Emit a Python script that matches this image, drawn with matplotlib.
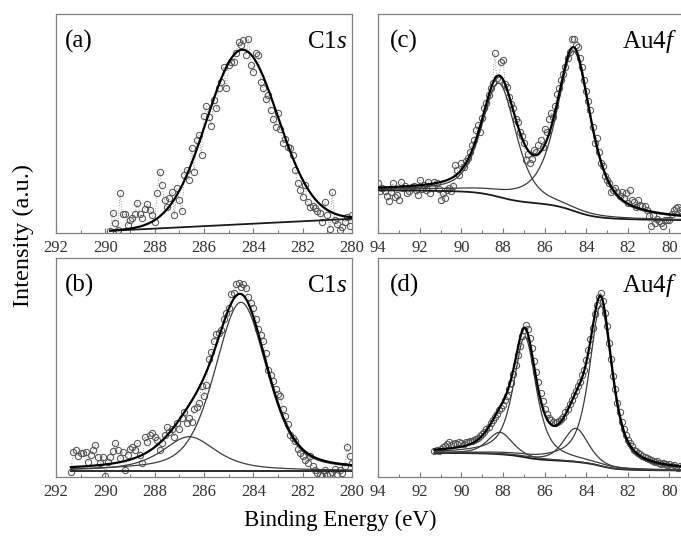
import numpy as np
import matplotlib
matplotlib.use("Agg")
import matplotlib.pyplot as plt
from matplotlib.ticker import MultipleLocator

plt.rcParams['font.family'] = ['Liberation Serif', 'DejaVu Serif']
plt.rcParams['mathtext.fontset'] = 'custom'
plt.rcParams['mathtext.rm'] = 'Liberation Serif'
plt.rcParams['mathtext.it'] = 'Liberation Serif:italic'

# ---------------- measured spectra (intensity in % of panel height) ----------------
# energies run from the first to the last value of each range, 0.1 eV apart
c1s_a_range = (289.8, 280.0)
c1s_a_counts = [
    0.9, 9.0, 4.5, 1.4, 18.1, 8.5, 8.5, 3.6, 6.0,
    7.0, 8.5, 13.9, 8.5, 7.0, 11.0, 13.2, 10.5, 8.3, 4.8,
    18.4, 27.8, 21.7, 15.0, 12.0, 16.0, 18.9, 8.3, 20.5, 15.0,
    10.0, 26.5, 29.0, 24.0, 38.7, 27.9, 42.5, 44.8, 35.6, 53.3,
    57.8, 53.0, 49.0, 60.9, 57.0, 66.0, 69.0, 75.9, 66.0, 76.7,
    78.2, 78.2, 82.0, 87.4, 85.9, 88.1, 81.3, 88.8, 76.7, 73.6,
    82.0, 81.3, 69.0, 66.0, 61.0, 63.0, 56.0, 52.0, 48.5, 55.0,
    47.7, 41.0, 43.0, 39.5, 38.7, 35.6, 28.8, 22.7, 19.6, 16.6,
    22.0, 14.0, 12.0, 12.5, 11.3, 10.0, 9.0, 5.1, 14.3, 8.0,
    2.0, 18.7, 6.0, 4.0, 1.2, 2.7, 5.0, 7.3, 3.0, 8.0,
]

c1s_b_range = (291.4, 280.0)
c1s_b_counts = [
    2.4, 11.5, 12.3, 9.5, 10.8, 11.0, 11.5, 7.0, 10.0, 12.3,
    14.6, 9.0, 6.2, 9.2, 0.5, 7.0, 9.2, 12.0, 15.4, 12.3,
    8.5, 11.5, 3.2, 10.0, 13.0, 13.9, 12.3, 15.4, 10.0, 6.2,
    18.4, 16.0, 19.2, 20.0, 18.4, 17.0, 12.3, 15.4, 19.0, 23.0,
    20.7, 22.0, 18.4, 24.5, 22.0, 26.8, 29.9, 24.5, 27.0, 25.3,
    31.0, 32.2, 33.7, 41.4, 36.8, 42.2, 53.7, 57.0, 62.1, 65.1,
    65.9, 67.0, 72.0, 75.0, 77.3, 83.4, 84.2, 88.0, 88.8, 87.0,
    88.0, 86.5, 82.0, 79.6, 77.3, 72.0, 67.4, 65.0, 62.1, 56.8,
    49.1, 46.8, 43.8, 40.0, 38.0, 36.9, 31.0, 27.8, 24.0, 19.4,
    18.0, 16.3, 13.0, 10.9, 9.5, 7.9, 6.4, 9.4, 5.0, 3.3,
    2.0, 1.0, 0.5, 3.0, 0.8, 1.6, 2.5, 3.5, 1.5, 3.0,
    2.0, 5.0, 13.9, 9.4, 6.4,
]

au4f_c_range = (94.0, 79.4)
au4f_c_counts = [
    22.7, 19.0, 20.5, 19.0, 17.0, 14.5, 18.5, 22.7, 16.6, 17.4,
    15.2, 23.4, 20.4, 21.5, 18.2, 19.0, 21.0, 21.3, 19.5, 17.4,
    24.2, 20.0, 21.9, 19.5, 23.4, 18.2, 20.5, 23.4, 22.7, 20.0,
    15.2, 18.2, 15.9, 19.7, 20.5, 19.0, 21.3, 31.0, 28.8, 26.5,
    31.8, 30.0, 33.0, 34.1, 37.1, 40.0, 42.5, 47.0, 49.5, 46.0,
    52.5, 57.0, 59.5, 63.0, 66.0, 68.5, 82.0, 70.7, 69.9, 78.2,
    79.0, 68.0, 66.5, 62.0, 59.0, 57.0, 52.0, 50.5, 46.0, 44.5,
    41.0, 33.2, 36.0, 31.8, 34.0, 38.0, 37.0, 40.0, 42.5, 39.4,
    47.7, 46.0, 52.0, 55.0, 53.0, 58.0, 63.5, 66.0, 70.0, 72.5,
    76.0, 80.0, 82.5, 88.4, 88.4, 85.8, 85.0, 80.0, 76.0, 70.0,
    65.0, 60.5, 56.0, 48.5, 40.9, 43.4, 37.0, 31.8, 30.5, 26.0,
    24.0, 22.7, 18.9, 19.5, 20.4, 18.9, 17.0, 18.9, 16.0, 18.2,
    13.5, 19.6, 15.2, 14.0, 12.0, 15.2, 13.0, 12.2, 12.2, 10.5,
    7.6, 3.0, 8.2, 4.6, 6.5, 5.3, 4.4, 3.0, 6.1, 6.0,
    6.1, 8.5, 10.5, 11.4, 12.0, 10.7, 9.0,
]

au4f_d_range = (91.3, 79.4)
au4f_d_counts = [
    12.0, 12.5, 12.0, 12.8, 13.5, 14.0, 15.0, 15.8, 14.5, 15.0,
    15.5, 15.0, 15.8, 15.5, 15.0, 16.0, 15.8, 16.5, 16.5, 17.0,
    17.3, 18.0, 18.8, 19.5, 20.5, 22.0, 23.0, 24.5, 26.0, 27.5,
    29.0, 30.5, 31.5, 33.0, 35.0, 37.0, 40.0, 43.0, 47.0, 51.0,
    55.5, 60.0, 64.5, 67.0, 69.5, 67.5, 63.5, 59.0, 53.0, 48.0,
    43.5, 38.5, 34.5, 31.0, 29.0, 27.0, 26.0, 25.0, 24.5, 25.0,
    25.5, 26.5, 27.5, 29.5, 31.0, 33.5, 35.0, 37.5, 39.5, 41.5,
    43.5, 46.5, 49.0, 53.5, 58.0, 63.0, 68.0, 74.5, 78.5, 82.0,
    84.0, 80.5, 75.0, 69.0, 61.0, 54.0, 46.0, 40.0, 34.0, 29.5,
    25.0, 22.0, 19.0, 17.0, 15.5, 14.0, 12.5, 11.8, 11.0, 10.5,
    9.5, 9.2, 8.5, 8.0, 7.8, 7.5, 7.0, 7.2, 6.5, 6.0,
    6.2, 6.0, 5.5, 5.8, 5.2, 5.5, 4.8, 4.0, 5.0, 4.5,
]

# ---------------- fitted components: (centre eV, height, FWHM eV, Lorentz fraction) ----------------
c1s_a_peaks = [(284.45, 79.7, 3.4, 0.0)]
c1s_a_linear_bg = (1.0, 6.5)      # at high-BE end, at low-BE end

c1s_b_peaks = [(284.5, 77.0, 2.5, 0.4), (286.6, 15.6, 2.6, 0.7)]
c1s_b_linear_bg = (2.8, 2.8)

au4f_c_peaks = [(88.2, 52.0, 1.95, 0.5), (84.6, 73.0, 1.95, 0.7)]
au4f_c_shirley = (19.5, 5.9)       # high-BE level, low-BE level

au4f_d_peaks = [(86.95, 55.0, 1.3, 0.7), (83.3, 73.3, 1.3, 0.7),
                (88.15, 10.0, 1.4, 0.5), (84.5, 15.3, 1.4, 0.5)]
au4f_d_shirley = (11.0, 3.0)


def pseudo_voigt(e, centre, height, fwhm, eta):
    u = (e - centre) / fwhm
    return height * (eta / (1 + 4 * u ** 2) + (1 - eta) * np.exp(-4 * np.log(2) * u ** 2))


def shirley(comps, high, low):
    # grid runs from high BE to low BE; integrate from the low-BE side
    total = np.sum(comps, axis=0)
    cum = np.cumsum(total[::-1])[::-1]
    s = (cum - cum[-1]) / (cum[0] - cum[-1])
    return low + (high - low) * s


def draw_panel(ax, e_range, counts, peaks, bg_kind, bg_levels, xlim, tag, core):
    e = np.linspace(e_range[0], e_range[1], len(counts))
    ax.plot(e, counts, ls=':', lw=0.7, color='#9a9a9a', marker='o', ms=4.5,
            mfc='none', mec='#555555', mew=0.75, zorder=2)

    grid = np.linspace(e_range[0], e_range[1], 900)
    comps = [pseudo_voigt(grid, *p) for p in peaks]
    if bg_kind == 'shirley':
        bg = shirley(comps, *bg_levels)
    else:
        frac = (e_range[0] - grid) / (e_range[0] - e_range[1])
        bg = bg_levels[0] + (bg_levels[1] - bg_levels[0]) * frac

    ax.plot(grid, bg, color='#1a1a1a', lw=1.3, zorder=3)
    if len(comps) > 1:
        for c in comps:
            ax.plot(grid, bg + c, color='#3c3c3c', lw=0.9, zorder=3)
    ax.plot(grid, bg + np.sum(comps, axis=0), color='black', lw=1.6, zorder=4)

    ax.set_xlim(*xlim)
    ax.set_ylim(0, 100)
    ax.set_yticks([])
    ax.xaxis.set_major_locator(MultipleLocator(2))
    ax.xaxis.set_minor_locator(MultipleLocator(1))
    ax.tick_params(axis='x', which='both', direction='in', top=False,
                   color='#777777', labelsize=12, labelcolor='#333333', pad=5)
    ax.tick_params(axis='x', which='major', length=3.5, width=0.8)
    ax.tick_params(axis='x', which='minor', length=2, width=0.7)
    for sp in ax.spines.values():
        sp.set_color('#808080')
        sp.set_linewidth(0.9)

    ax.text(tag[0], 0.845, tag[1], transform=ax.transAxes, fontsize=18,
            ha='left', va='baseline')
    ax.text(core[0], 0.845, core[1], transform=ax.transAxes, fontsize=18,
            ha='right', va='baseline')


fig = plt.figure(figsize=(6.81, 5.42), dpi=100)

ax_a = fig.add_axes([0.0822, 0.5701, 0.4347, 0.404])
ax_c = fig.add_axes([0.5555, 0.5701, 0.4474, 0.404])
ax_b = fig.add_axes([0.0822, 0.1199, 0.4347, 0.404])
ax_d = fig.add_axes([0.5555, 0.1199, 0.4474, 0.404])

draw_panel(ax_a, c1s_a_range, c1s_a_counts, c1s_a_peaks, 'linear', c1s_a_linear_bg,
           (292, 280), (0.03, '(a)'), (0.983, r'C1$\mathit{s}$'))
draw_panel(ax_b, c1s_b_range, c1s_b_counts, c1s_b_peaks, 'linear', c1s_b_linear_bg,
           (292, 280), (0.03, '(b)'), (0.983, r'C1$\mathit{s}$'))
draw_panel(ax_c, au4f_c_range, au4f_c_counts, au4f_c_peaks, 'shirley', au4f_c_shirley,
           (94, 79.35), (0.038, '(c)'), (0.98, r'Au4$\mathit{f}$'))
draw_panel(ax_d, au4f_d_range, au4f_d_counts, au4f_d_peaks, 'shirley', au4f_d_shirley,
           (94, 79.35), (0.038, '(d)'), (0.98, r'Au4$\mathit{f}$'))

fig.text(0.5, 0.04, 'Binding Energy (eV)', fontsize=16.5, ha='center', va='center')
fig.text(0.034, 0.565, 'Intensity (a.u.)', fontsize=17.5, ha='center', va='center',
         rotation=90)

fig.savefig('out.png', dpi=100)
